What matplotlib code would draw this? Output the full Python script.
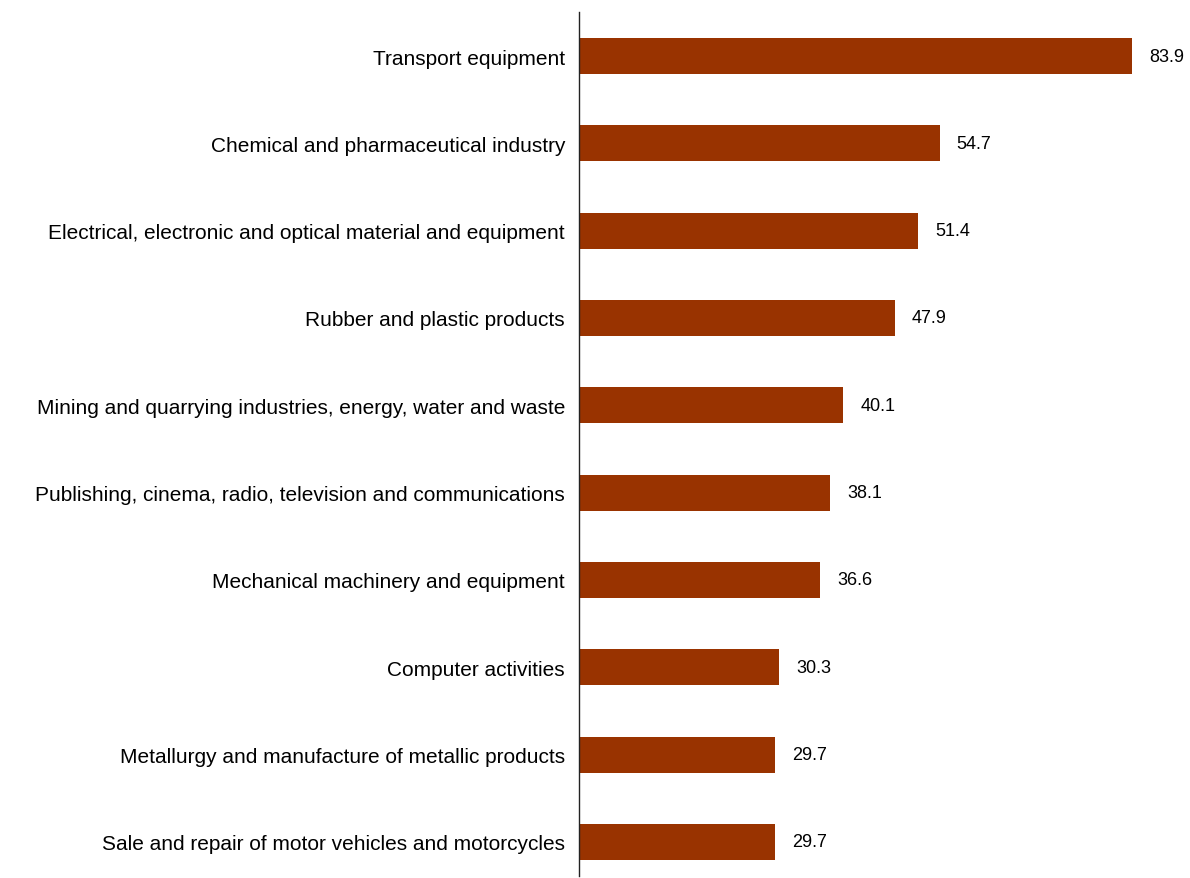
import matplotlib
matplotlib.use('Agg')
import matplotlib.pyplot as plt
import numpy as np

sectors = [
    'Transport equipment',
    'Chemical and pharmaceutical industry',
    'Electrical, electronic and optical material and equipment',
    'Rubber and plastic products',
    'Mining and quarrying industries, energy, water and waste',
    'Publishing, cinema, radio, television and communications',
    'Mechanical machinery and equipment',
    'Computer activities',
    'Metallurgy and manufacture of metallic products',
    'Sale and repair of motor vehicles and motorcycles',
]
values = [83.9, 54.7, 51.4, 47.9, 40.1, 38.1, 36.6, 30.3, 29.7, 29.7]

plt.rcParams['font.family'] = ['Liberation Sans', 'DejaVu Sans']

fig = plt.figure(figsize=(11.9, 8.79), dpi=100)
ax = fig.add_axes([579 / 1190, 2 / 879, 611 / 1190, 864 / 879])

pos = np.arange(len(values))
ax.barh(pos, values, height=0.41, color='#993300', edgecolor='none')

# value labels just right of each bar
for y, v in zip(pos, values):
    ax.text(v + 2.6, y, f'{v:.1f}', va='center', ha='left', fontsize=13)

ax.set_yticks(pos)
ax.set_yticklabels(sectors, fontsize=15)
ax.tick_params(axis='y', length=0, pad=10)
ax.set_ylim(9.39, -0.504)
ax.set_xlim(0, 92.7)
ax.set_xticks([])

for side in ['top', 'right', 'bottom']:
    ax.spines[side].set_visible(False)
ax.spines['left'].set_linewidth(1)
ax.spines['left'].set_color('#222222')

fig.savefig('out.png', dpi=100)
